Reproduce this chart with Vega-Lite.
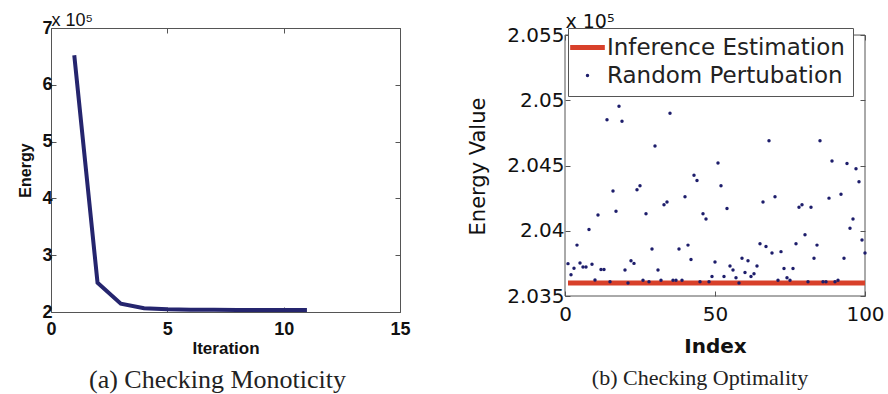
{
  "$schema": "https://vega.github.io/schema/vega-lite/v6.json",
  "padding": {"left": 17, "top": 11, "right": 0, "bottom": 0},
  "background": "white",
  "spacing": 56,
  "resolve": {"scale": {"color": "independent"}},
  "config": {
    "view": {"stroke": "#555", "strokeWidth": 1},
    "axis": {"domain": false, "grid": false, "tickColor": "#555", "tickSize": -5, "labelColor": "#111", "titleColor": "#111", "labelFlush": false}
  },
  "hconcat": [
    {
      "width": 349,
      "height": 284,
      "title": {"text": "(a) Checking Monoticity", "orient": "bottom", "frame": "group", "anchor": "middle", "dx": -8, "font": "Liberation Serif", "fontSize": 26, "fontWeight": "normal", "color": "#222", "offset": 11},
      "data": {"values": [
        {"iteration": 1, "energy": 6.52},
        {"iteration": 2, "energy": 2.515},
        {"iteration": 3, "energy": 2.146},
        {"iteration": 4, "energy": 2.066},
        {"iteration": 5, "energy": 2.047},
        {"iteration": 6, "energy": 2.04},
        {"iteration": 7, "energy": 2.038},
        {"iteration": 8, "energy": 2.037},
        {"iteration": 9, "energy": 2.036},
        {"iteration": 10, "energy": 2.036},
        {"iteration": 11, "energy": 2.036}
      ]},
      "layer": [
        {
          "mark": {"type": "line", "color": "#25256e", "strokeWidth": 4},
          "encoding": {
            "x": {"field": "iteration", "type": "quantitative", "scale": {"domain": [0, 15], "nice": false},
                  "axis": {"orient": "bottom", "values": [0, 5, 10, 15], "title": "Iteration", "labelFont": "Liberation Sans", "labelFontSize": 18, "labelFontWeight": "bold", "labelPadding": 13, "titleFont": "Liberation Sans", "titleFontSize": 17, "titleFontWeight": "bold", "titlePadding": 2}},
            "y": {"field": "energy", "type": "quantitative", "scale": {"domain": [2, 7], "nice": false, "zero": false},
                  "axis": {"orient": "left", "values": [2, 3, 4, 5, 6, 7], "title": "Energy", "labelFont": "Liberation Sans", "labelFontSize": 18, "labelFontWeight": "bold", "labelPadding": 4, "titleFont": "Liberation Sans Narrow, Liberation Sans", "titleFontSize": 16, "titleFontWeight": "bold", "titlePadding": 8}}
          }
        },
        {
          "mark": {"type": "point", "opacity": 0},
          "encoding": {
            "x": {"field": "iteration", "type": "quantitative",
                  "axis": {"orient": "top", "values": [0, 5, 10, 15], "labels": false, "title": "x 10⁵", "titleAnchor": "start", "titleAlign": "left", "titleFont": "Liberation Sans", "titleFontSize": 18, "titleFontWeight": "normal", "titlePadding": -2}},
            "y": {"field": "energy", "type": "quantitative",
                  "axis": {"orient": "right", "values": [2, 3, 4, 5, 6, 7], "labels": false, "title": null}}
          }
        }
      ],
      "resolve": {"axis": {"x": "independent", "y": "independent"}}
    },
    {
      "width": 300,
      "height": 268,
      "view": {"stroke": null},
      "title": {"text": "(b) Checking Optimality", "orient": "bottom", "frame": "group", "anchor": "middle", "dx": -15, "font": "Liberation Serif", "fontSize": 22, "fontWeight": "normal", "color": "#222", "offset": 12},
      "layer": [
        {
          "data": {"values": [{"frame": "box"}]},
          "mark": {"type": "rect", "filled": false, "stroke": "#555", "strokeWidth": 1},
          "encoding": {
            "x": {"datum": 0, "type": "quantitative", "axis": null},
            "x2": {"datum": 100},
            "y": {"datum": 2.035, "type": "quantitative", "axis": null},
            "y2": {"datum": 2.055}
          }
        },
        {
          "data": {"values": [
            {"index": 1, "energy": 2.036, "series": "Inference Estimation"},
            {"index": 100, "energy": 2.036, "series": "Inference Estimation"}
          ]},
          "mark": {"type": "line", "strokeWidth": 5},
          "encoding": {
            "x": {"field": "index", "type": "quantitative", "scale": {"domain": [0, 100], "nice": false},
                  "axis": {"orient": "bottom", "values": [0, 50, 100], "title": "Index", "labelFont": "DejaVu Sans", "labelFontSize": 20, "labelPadding": 13, "titleFont": "DejaVu Sans", "titleFontSize": 20, "titleFontWeight": "bold", "titlePadding": 12}},
            "y": {"field": "energy", "type": "quantitative", "scale": {"domain": [2.035, 2.05554], "nice": false, "zero": false},
                  "axis": {"orient": "left", "values": [2.035, 2.04, 2.045, 2.05, 2.055], "format": ".3~f", "title": "Energy Value", "titleY": 138, "labelFont": "DejaVu Sans", "labelFontSize": 20, "labelPadding": 6, "titleFont": "DejaVu Sans", "titleFontSize": 21, "titleFontWeight": "normal", "titlePadding": 18}},
            "color": {"field": "series", "type": "nominal", "scale": {"domain": ["Inference Estimation", "Random Pertubation"], "range": ["#d8402a", "#1d1d6b"]},
                      "legend": {"orient": "none", "legendX": 3, "legendY": 0, "title": null, "direction": "vertical",
                                 "labelFont": "DejaVu Sans", "labelFontSize": 23, "labelColor": "#222", "labelOffset": 8, "labelLimit": 400,
                                 "symbolSize": 1200, "symbolType": "stroke", "symbolStrokeWidth": 5,
                                 "padding": 8, "rowPadding": 4, "strokeColor": "#555", "fillColor": "white",
                                 "encode": {"symbols": {"update": {
                                   "shape": {"signal": "datum.value === 'Random Pertubation' ? 'circle' : 'stroke'"},
                                   "size": {"signal": "datum.value === 'Random Pertubation' ? 12 : 1200"},
                                   "stroke": {"signal": "datum.value === 'Random Pertubation' ? 'transparent' : '#d8402a'"},
                                   "fill": {"signal": "datum.value === 'Random Pertubation' ? '#1d1d6b' : 'transparent'"},
                                   "strokeWidth": {"signal": "datum.value === 'Random Pertubation' ? 0 : 5"}
                                 }}}}}
          }
        },
        {
          "data": {"values": [
            {"index":1,"energy":2.03748,"series":"Random Pertubation"},
            {"index":2,"energy":2.03663,"series":"Random Pertubation"},
            {"index":3,"energy":2.03713,"series":"Random Pertubation"},
            {"index":4,"energy":2.0389,"series":"Random Pertubation"},
            {"index":5,"energy":2.03753,"series":"Random Pertubation"},
            {"index":6,"energy":2.03723,"series":"Random Pertubation"},
            {"index":7,"energy":2.03723,"series":"Random Pertubation"},
            {"index":8,"energy":2.0401,"series":"Random Pertubation"},
            {"index":9,"energy":2.03743,"series":"Random Pertubation"},
            {"index":10,"energy":2.03623,"series":"Random Pertubation"},
            {"index":11,"energy":2.0412,"series":"Random Pertubation"},
            {"index":12,"energy":2.03703,"series":"Random Pertubation"},
            {"index":13,"energy":2.03703,"series":"Random Pertubation"},
            {"index":14,"energy":2.0485,"series":"Random Pertubation"},
            {"index":15,"energy":2.0361,"series":"Random Pertubation"},
            {"index":16,"energy":2.04305,"series":"Random Pertubation"},
            {"index":17,"energy":2.0415,"series":"Random Pertubation"},
            {"index":18,"energy":2.04955,"series":"Random Pertubation"},
            {"index":19,"energy":2.0484,"series":"Random Pertubation"},
            {"index":20,"energy":2.037,"series":"Random Pertubation"},
            {"index":21,"energy":2.036,"series":"Random Pertubation"},
            {"index":22,"energy":2.0377,"series":"Random Pertubation"},
            {"index":23,"energy":2.0375,"series":"Random Pertubation"},
            {"index":24,"energy":2.04315,"series":"Random Pertubation"},
            {"index":25,"energy":2.04345,"series":"Random Pertubation"},
            {"index":26,"energy":2.0362,"series":"Random Pertubation"},
            {"index":27,"energy":2.0413,"series":"Random Pertubation"},
            {"index":28,"energy":2.0361,"series":"Random Pertubation"},
            {"index":29,"energy":2.0386,"series":"Random Pertubation"},
            {"index":30,"energy":2.0465,"series":"Random Pertubation"},
            {"index":31,"energy":2.037,"series":"Random Pertubation"},
            {"index":32,"energy":2.0362,"series":"Random Pertubation"},
            {"index":33,"energy":2.042,"series":"Random Pertubation"},
            {"index":34,"energy":2.0422,"series":"Random Pertubation"},
            {"index":35,"energy":2.049,"series":"Random Pertubation"},
            {"index":36,"energy":2.0362,"series":"Random Pertubation"},
            {"index":37,"energy":2.0362,"series":"Random Pertubation"},
            {"index":38,"energy":2.0386,"series":"Random Pertubation"},
            {"index":39,"energy":2.0362,"series":"Random Pertubation"},
            {"index":40,"energy":2.0426,"series":"Random Pertubation"},
            {"index":41,"energy":2.0389,"series":"Random Pertubation"},
            {"index":42,"energy":2.0378,"series":"Random Pertubation"},
            {"index":43,"energy":2.04425,"series":"Random Pertubation"},
            {"index":44,"energy":2.04385,"series":"Random Pertubation"},
            {"index":45,"energy":2.0361,"series":"Random Pertubation"},
            {"index":46,"energy":2.0413,"series":"Random Pertubation"},
            {"index":47,"energy":2.0409,"series":"Random Pertubation"},
            {"index":48,"energy":2.0361,"series":"Random Pertubation"},
            {"index":49,"energy":2.0365,"series":"Random Pertubation"},
            {"index":50,"energy":2.0376,"series":"Random Pertubation"},
            {"index":51,"energy":2.0452,"series":"Random Pertubation"},
            {"index":52,"energy":2.04345,"series":"Random Pertubation"},
            {"index":53,"energy":2.0365,"series":"Random Pertubation"},
            {"index":54,"energy":2.0417,"series":"Random Pertubation"},
            {"index":55,"energy":2.0373,"series":"Random Pertubation"},
            {"index":56,"energy":2.037,"series":"Random Pertubation"},
            {"index":57,"energy":2.0364,"series":"Random Pertubation"},
            {"index":58,"energy":2.036,"series":"Random Pertubation"},
            {"index":59,"energy":2.0379,"series":"Random Pertubation"},
            {"index":60,"energy":2.0368,"series":"Random Pertubation"},
            {"index":61,"energy":2.0377,"series":"Random Pertubation"},
            {"index":62,"energy":2.0365,"series":"Random Pertubation"},
            {"index":63,"energy":2.0367,"series":"Random Pertubation"},
            {"index":64,"energy":2.0373,"series":"Random Pertubation"},
            {"index":65,"energy":2.039,"series":"Random Pertubation"},
            {"index":66,"energy":2.0422,"series":"Random Pertubation"},
            {"index":67,"energy":2.0388,"series":"Random Pertubation"},
            {"index":68,"energy":2.0469,"series":"Random Pertubation"},
            {"index":69,"energy":2.0383,"series":"Random Pertubation"},
            {"index":70,"energy":2.0426,"series":"Random Pertubation"},
            {"index":71,"energy":2.0362,"series":"Random Pertubation"},
            {"index":72,"energy":2.0384,"series":"Random Pertubation"},
            {"index":73,"energy":2.0371,"series":"Random Pertubation"},
            {"index":74,"energy":2.0364,"series":"Random Pertubation"},
            {"index":75,"energy":2.0362,"series":"Random Pertubation"},
            {"index":76,"energy":2.0371,"series":"Random Pertubation"},
            {"index":77,"energy":2.039,"series":"Random Pertubation"},
            {"index":78,"energy":2.0418,"series":"Random Pertubation"},
            {"index":79,"energy":2.042,"series":"Random Pertubation"},
            {"index":80,"energy":2.0397,"series":"Random Pertubation"},
            {"index":81,"energy":2.0361,"series":"Random Pertubation"},
            {"index":82,"energy":2.0418,"series":"Random Pertubation"},
            {"index":83,"energy":2.0379,"series":"Random Pertubation"},
            {"index":84,"energy":2.0389,"series":"Random Pertubation"},
            {"index":85,"energy":2.0469,"series":"Random Pertubation"},
            {"index":86,"energy":2.0361,"series":"Random Pertubation"},
            {"index":87,"energy":2.0361,"series":"Random Pertubation"},
            {"index":88,"energy":2.0425,"series":"Random Pertubation"},
            {"index":89,"energy":2.04535,"series":"Random Pertubation"},
            {"index":90,"energy":2.0361,"series":"Random Pertubation"},
            {"index":91,"energy":2.0362,"series":"Random Pertubation"},
            {"index":92,"energy":2.0428,"series":"Random Pertubation"},
            {"index":93,"energy":2.0379,"series":"Random Pertubation"},
            {"index":94,"energy":2.04515,"series":"Random Pertubation"},
            {"index":95,"energy":2.0402,"series":"Random Pertubation"},
            {"index":96,"energy":2.0409,"series":"Random Pertubation"},
            {"index":97,"energy":2.04475,"series":"Random Pertubation"},
            {"index":98,"energy":2.04375,"series":"Random Pertubation"},
            {"index":99,"energy":2.0393,"series":"Random Pertubation"},
            {"index":100,"energy":2.0383,"series":"Random Pertubation"}
          ]},
          "mark": {"type": "point", "filled": true, "size": 12, "opacity": 1},
          "encoding": {
            "x": {"field": "index", "type": "quantitative",
                  "axis": {"orient": "top", "offset": -7, "values": [0, 50, 100], "labels": false, "title": "x 10⁵", "titleAnchor": "start", "titleAlign": "left", "titleFont": "DejaVu Sans", "titleFontSize": 19, "titleFontWeight": "normal", "titlePadding": 3}},
            "y": {"field": "energy", "type": "quantitative",
                  "axis": {"orient": "right", "values": [2.035, 2.04, 2.045, 2.05, 2.055], "labels": false, "title": null}},
            "color": {"field": "series", "type": "nominal"}
          }
        }
      ],
      "resolve": {"axis": {"x": "independent", "y": "independent"}}
    }
  ]
}
